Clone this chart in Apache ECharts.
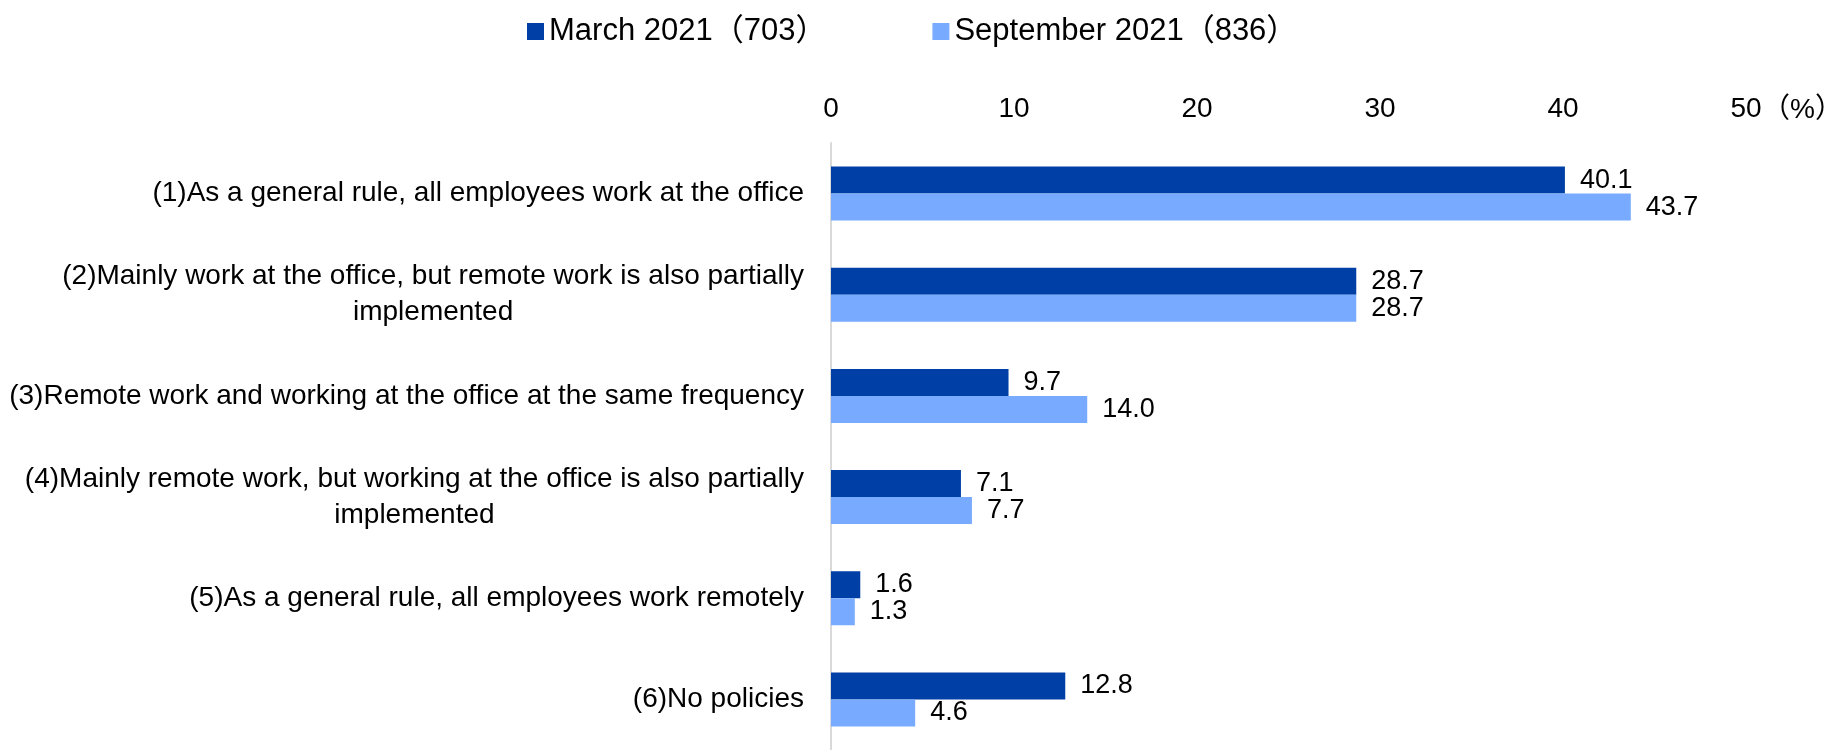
<!DOCTYPE html>
<html>
<head>
<meta charset="utf-8">
<title>Office work policy</title>
<script src="https://cdn.jsdelivr.net/npm/echarts@6/dist/echarts.min.js"></script>
<style>
  html, body { margin: 0; padding: 0; background: #fff; }
  #chart { width: 1846px; height: 750px; }
</style>
</head>
<body>
<div id="chart"></div>
<script>
const categories = [
  '(1)As a general rule, all employees work at the office',
  '(2)Mainly work at the office, but remote work is also partially\nimplemented',
  '(3)Remote work and working at the office at the same frequency',
  '(4)Mainly remote work, but working at the office is also partially\nimplemented',
  '(5)As a general rule, all employees work remotely',
  '(6)No policies'
]
const seriesNames = ['March 2021（703）', 'September 2021（836）']
const march2021 = [40.1, 28.7, 9.7, 7.1, 1.6, 12.8]
const september2021 = [43.7, 28.7, 14.0, 7.7, 1.3, 4.6]
const xTicks = [0, 10, 20, 30, 40, 50]

const font = '"Liberation Sans", Arial, "Noto Sans CJK JP", sans-serif'
const colors = ['#0040a6', '#78aaff']

const chart = echarts.init(document.getElementById('chart'))

const barLabel = {
  show: true,
  position: 'right',
  distance: 15,
  color: '#000',
  fontFamily: font,
  fontSize: 27,
  formatter: p => p.value.toFixed(1)
}

chart.setOption({
  animation: false,
  textStyle: { fontFamily: font },
  legend: {
    top: 11,
    left: 522,
    itemWidth: 17,
    itemHeight: 17,
    itemGap: 106,
    icon: 'rect',
    textStyle: { fontFamily: font, fontSize: 31, color: '#000' },
    data: seriesNames
  },
  grid: {
    left: 831,
    right: 89,
    top: 143,
    height: 614
  },
  xAxis: {
    type: 'value',
    position: 'top',
    min: xTicks[0],
    max: xTicks[xTicks.length - 1],
    interval: 10,
    name: '（%）',
    nameLocation: 'end',
    nameGap: 16,
    nameMoveOverlap: false,
    nameTextStyle: {
      fontFamily: font,
      fontSize: 28,
      color: '#000',
      align: 'left',
      verticalAlign: 'bottom',
      padding: [0, 0, 19, 0]
    },
    axisLine: { show: false },
    axisTick: { show: false },
    splitLine: { show: false },
    axisLabel: {
      margin: 20,
      fontFamily: font,
      fontSize: 28,
      color: '#000'
    }
  },
  yAxis: {
    type: 'category',
    inverse: true,
    data: categories,
    axisLine: { lineStyle: { color: '#d9d9d9', width: 2 } },
    axisTick: { show: false },
    axisLabel: {
      margin: 27,
      color: '#000',
      fontFamily: font,
      fontSize: 28,
      formatter: value => value.split('\n').map(s => '{c|' + s + '}').join('\n'),
      rich: {
        c: {
          align: 'center',
          fontFamily: font,
          fontSize: 28,
          lineHeight: 36,
          color: '#000'
        }
      }
    }
  },
  series: [
    {
      name: seriesNames[0],
      type: 'bar',
      data: march2021,
      barWidth: 27,
      barGap: '0%',
      itemStyle: { color: colors[0] },
      label: barLabel
    },
    {
      name: seriesNames[1],
      type: 'bar',
      data: september2021,
      barWidth: 27,
      barGap: '0%',
      itemStyle: { color: colors[1] },
      label: barLabel
    }
  ]
})
</script>
</body>
</html>
